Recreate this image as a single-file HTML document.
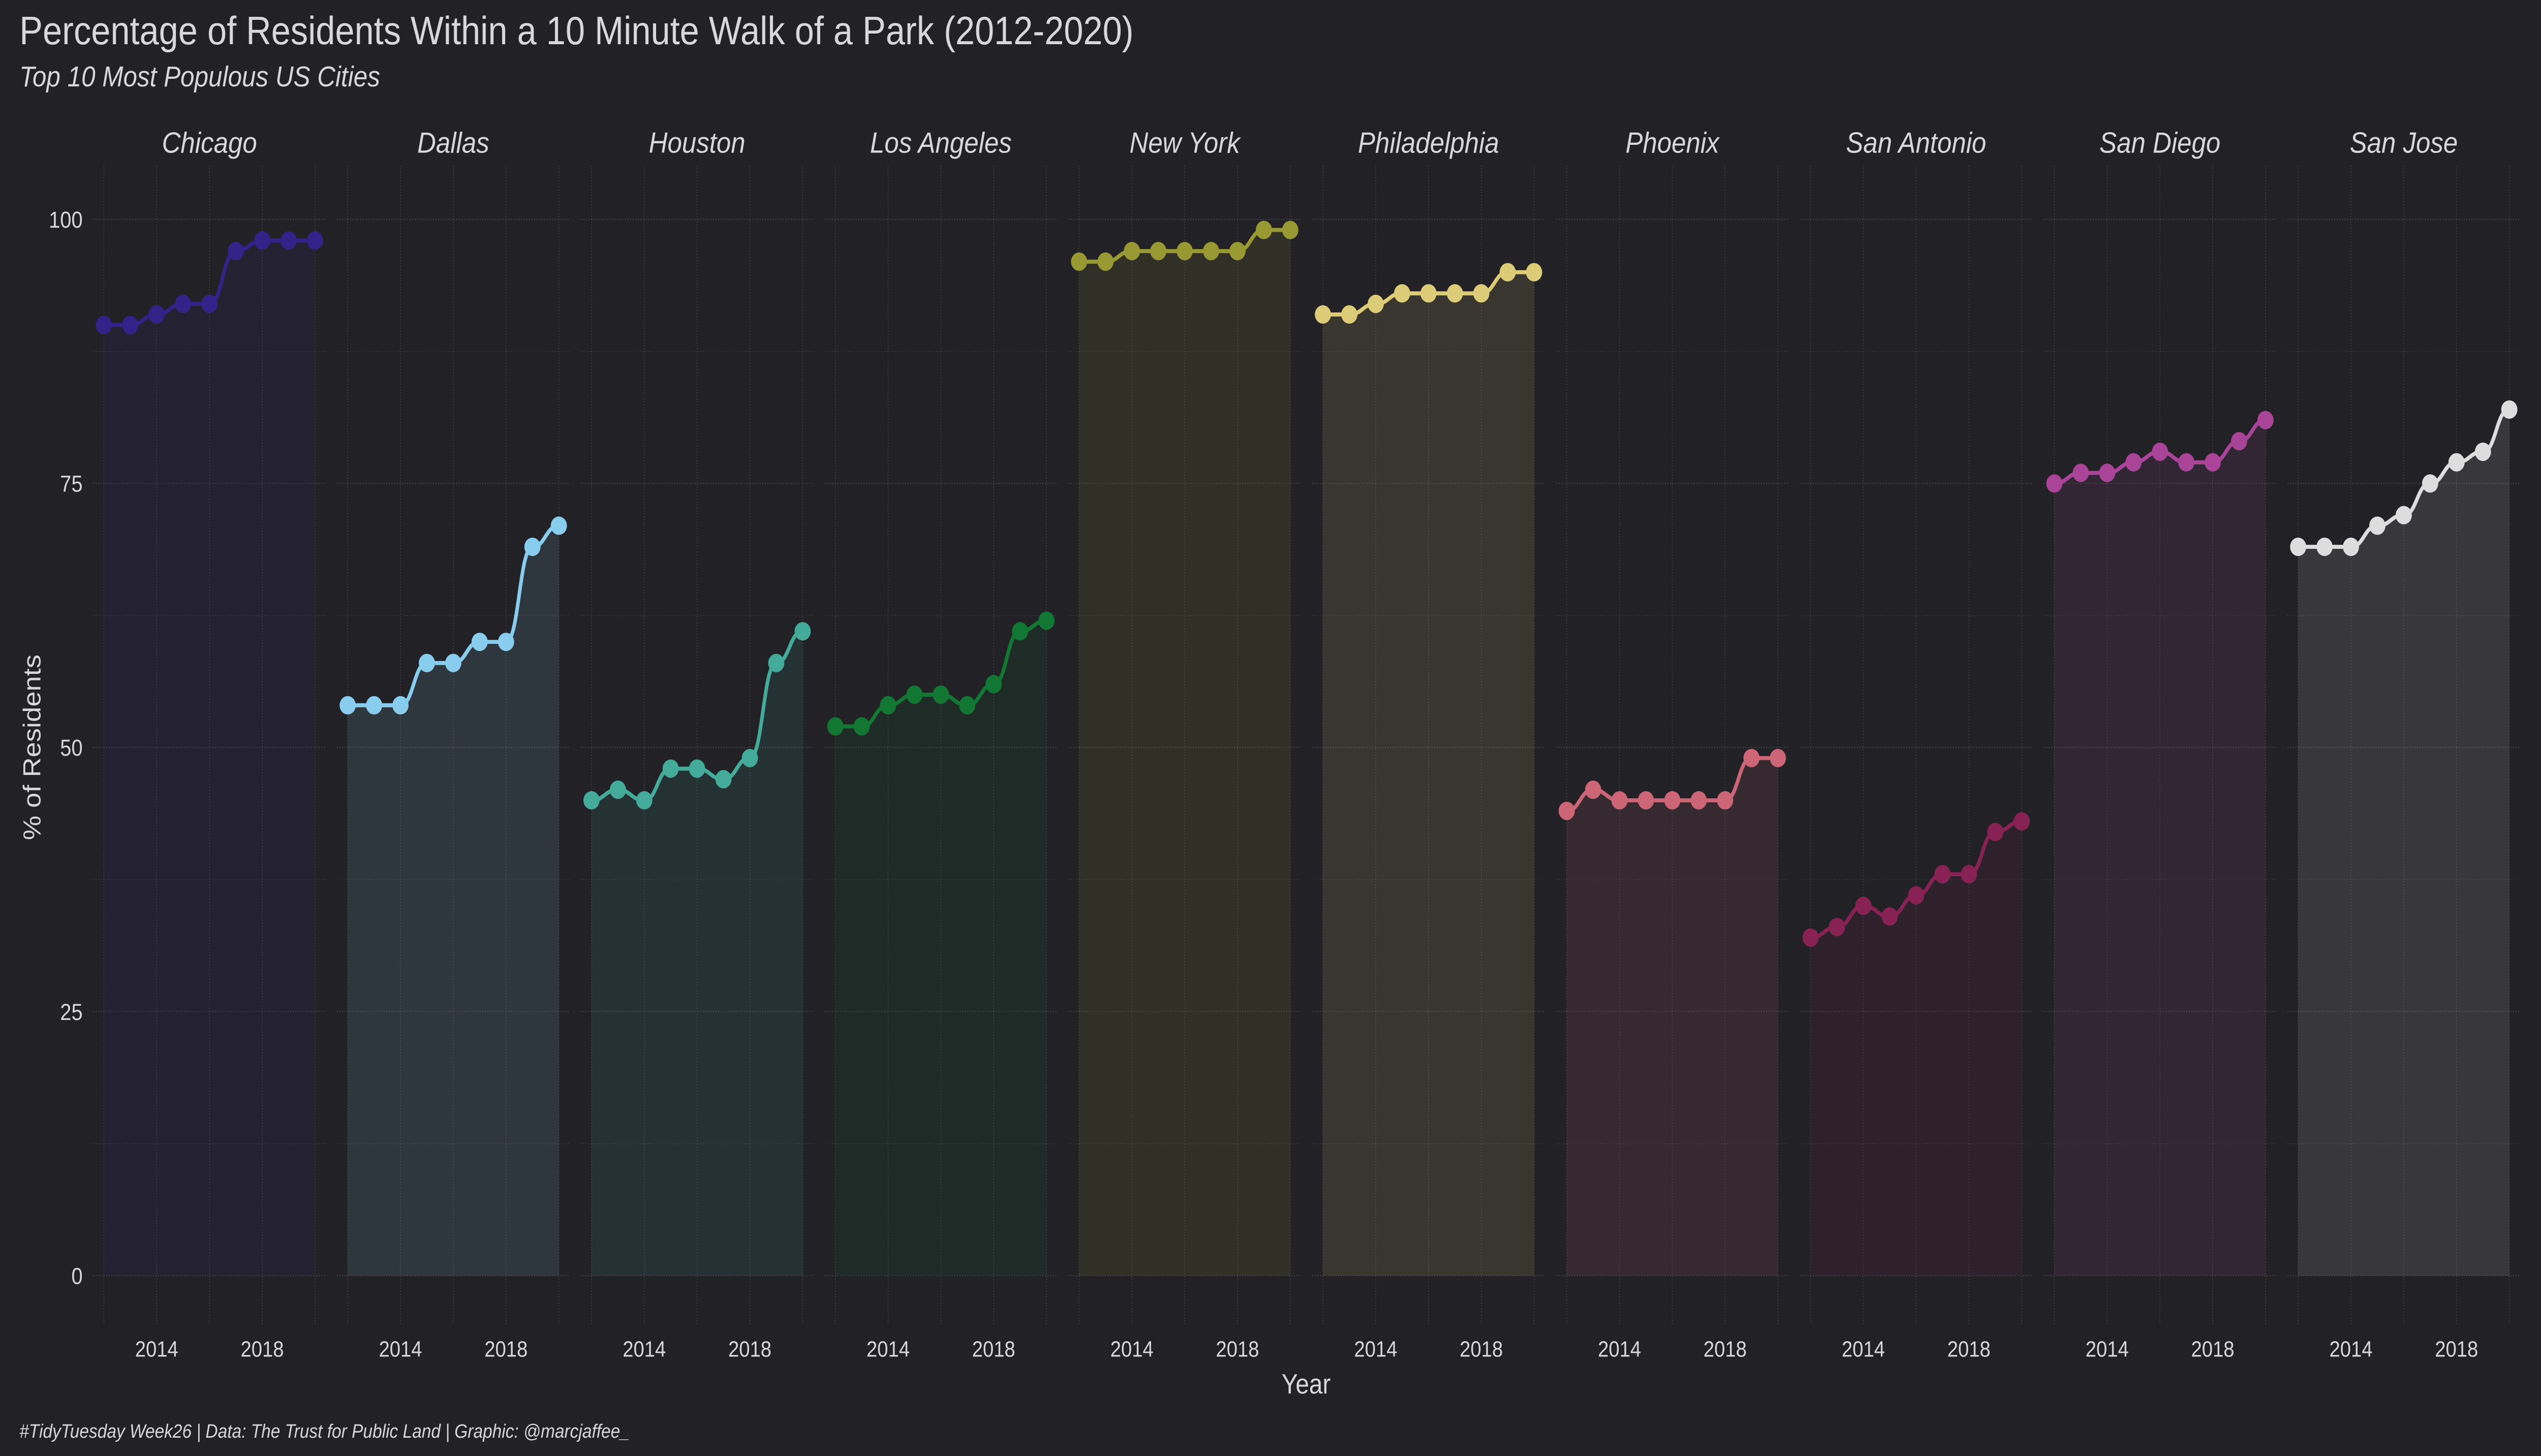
<!DOCTYPE html>
<html><head><meta charset="utf-8">
<style>
html,body{margin:0;padding:0;background:#222126;overflow:hidden;width:100vw;height:100vh;}
svg{display:block;width:100vw;height:100vh;}
text{font-family:"Liberation Sans",sans-serif;fill:#d8d8dc;}
</style></head>
<body>
<svg id="chart" viewBox="0 0 1568 791" preserveAspectRatio="none" xmlns="http://www.w3.org/2000/svg">
<rect width="1568" height="791" fill="#222126"/>
<text x="12" y="24" font-size="21.5" font-weight="300">Percentage of Residents Within a 10 Minute Walk of a Park (2012-2020)</text>
<text x="12" y="47" font-size="15.5" font-style="italic" fill="#bbbbc0">Top 10 Most Populous US Cities</text>
<text x="806" y="757" font-size="15" text-anchor="middle" fill="#aaaab0">Year</text>
<text x="0" y="0" font-size="15" text-anchor="middle" fill="#aaaab0" transform="translate(25,406) rotate(-90)">% of Residents</text>
<text x="12" y="781" font-size="10.5" font-style="italic" fill="#aaaab0">#TidyTuesday Week26 | Data: The Trust for Public Land | Graphic: @marcjaffee_</text>
<g id="plots"></g>
</svg>
<script>
const cities = ["Chicago","Dallas","Houston","Los Angeles","New York","Philadelphia","Phoenix","San Antonio","San Diego","San Jose"];
const years = [2012,2013,2014,2015,2016,2017,2018,2019,2020];
const colors = ["#332288","#88ccee","#44aa99","#117733","#999933","#ddcc77","#cc6677","#882255","#aa4499","#dddddd"];
const chicago = [90,90,91,92,92,97,98,98,98];
const dallas = [54,54,54,58,58,60,60,69,71];
const houston = [45,46,45,48,48,47,49,58,61];
const losAngeles = [52,52,54,55,55,54,56,61,62];
const newYork = [96,96,97,97,97,97,97,99,99];
const philadelphia = [91,91,92,93,93,93,93,95,95];
const phoenix = [44,46,45,45,45,45,45,49,49];
const sanAntonio = [32,33,35,34,36,38,38,42,43];
const sanDiego = [75,76,76,77,78,77,77,79,81];
const sanJose = [69,69,69,71,72,75,77,78,82];
const yTicks = [0,25,50,75,100];
const xTicks = [2014,2018];
const series = [chicago,dallas,houston,losAngeles,newYork,philadelphia,phoenix,sanAntonio,sanDiego,sanJose];

const NS="http://www.w3.org/2000/svg";
const plotsG=document.getElementById('plots');
const panelLeft=57.5, pitch=150.45, panelW=143.5, panelTop=90, panelBottom=720;
const yScale=v=>693-v*5.738;
const xIn=(i,yr)=>panelLeft+i*pitch+6.6+(yr-2012)*(panelW-13.2)/8;
function mk(tag,attrs,parent){const e=document.createElementNS(NS,tag);for(const k in attrs)e.setAttribute(k,attrs[k]);(parent||plotsG).appendChild(e);return e;}

yTicks.forEach(t=>{
  const e=mk('text',{x:51,y:yScale(t)+4.5,'font-size':12.5,'text-anchor':'end',fill:'#aaaab0'});
  e.textContent=t;
  
  
});

cities.forEach((c,i)=>{
  const pg=mk('g',{});
  
  
  const L=panelLeft+i*pitch, R=L+panelW;
  for(let v=0; v<=100; v+=12.5){
    const ln=mk('line',{x1:L,x2:R,y1:yScale(v),y2:yScale(v),stroke:'#ffffff','stroke-opacity':(v%25===0)?0.16:0.1,'stroke-width':0.6,'stroke-dasharray':'0.6 1'},pg);
    
    
  }
  for(let yr=2012; yr<=2020; yr+=2){
    const ln=mk('line',{x1:xIn(i,yr),x2:xIn(i,yr),y1:panelTop,y2:panelBottom,stroke:'#ffffff','stroke-opacity':0.13,'stroke-width':0.6,'stroke-dasharray':'0.6 1'},pg);
    
    
  }
  const d=series[i];
  let path='M'+xIn(i,years[0])+','+yScale(d[0]);
  for(let k=1;k<d.length;k++){
    const x0=xIn(i,years[k-1]), x1=xIn(i,years[k]), dx=x1-x0;
    path+=' C'+(x0+dx*0.5)+','+yScale(d[k-1])+' '+(x1-dx*0.5)+','+yScale(d[k])+' '+x1+','+yScale(d[k]);
  }
  const area=mk('path',{d:path+' L'+xIn(i,2020)+','+yScale(0)+' L'+xIn(i,2012)+','+yScale(0)+' Z',fill:colors[i],'fill-opacity':0.12},pg);
  
  
  const line=mk('path',{d:path,fill:'none',stroke:colors[i],'stroke-width':2.2},pg);
  
  
  d.forEach((v,k)=>{
    const p=mk('circle',{cx:xIn(i,years[k]),cy:yScale(v),r:5,fill:colors[i]},pg);
    
    
  });
  const lab=mk('text',{x:(L+R)/2,y:83,'font-size':16,'font-style':'italic','text-anchor':'middle',fill:'#d0d0d4'},pg);
  lab.textContent=c;
  
  
  xTicks.forEach(t=>{
    const e=mk('text',{x:xIn(i,t),y:737,'font-size':12,'text-anchor':'middle',fill:'#aaaab0'},pg);
    e.textContent=t;
    
    
  });
});
</script>
</body></html>
